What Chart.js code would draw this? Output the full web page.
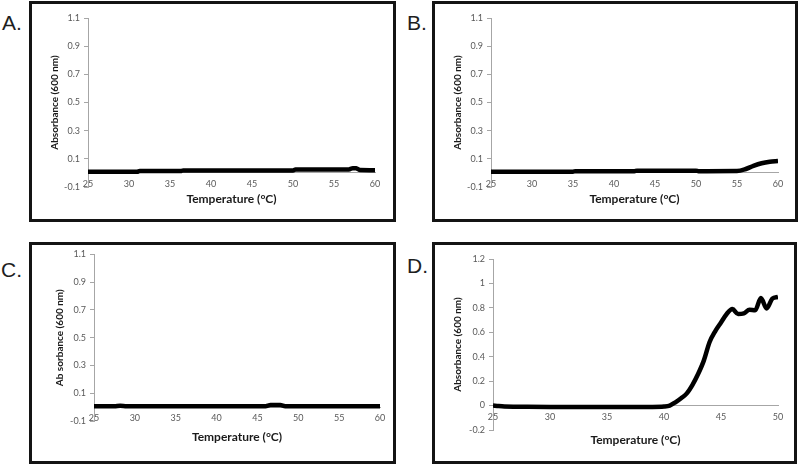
<!DOCTYPE html>
<html>
<head>
<meta charset="utf-8">
<script src="https://cdn.jsdelivr.net/npm/chart.js@4.4.1/dist/chart.umd.min.js"></script>
<style>
  html, body { margin: 0; padding: 0; background: #fff; width: 800px; height: 465px; overflow: hidden; }
  .box { position: absolute; border: 3px solid #141414; box-sizing: border-box; pointer-events: none; }
  .tag { position: absolute; font-family: "Liberation Sans", Arial, sans-serif; font-size: 21px; color: #1e1e1e; line-height: 1; }
  canvas { position: absolute; }
</style>
</head>
<body>
<div class="tag" style="left:2px;top:12px">A.</div>
<div class="tag" style="left:407px;top:12px">B.</div>
<div class="tag" style="left:1px;top:259px">C.</div>
<div class="tag" style="left:407px;top:255px">D.</div>

<canvas id="chartA" width="360" height="216" style="left:33px;top:4px"></canvas>
<canvas id="chartB" width="360" height="216" style="left:436px;top:4px"></canvas>
<canvas id="chartC" width="360" height="213" style="left:33px;top:245px"></canvas>
<canvas id="chartD" width="358" height="227" style="left:436px;top:245px"></canvas>

<div class="box" style="left:29px;top:1px;width:367px;height:221px"></div>
<div class="box" style="left:432px;top:1px;width:366px;height:221px"></div>
<div class="box" style="left:29px;top:242px;width:367px;height:222px"></div>
<div class="box" style="left:432px;top:242px;width:365px;height:222px"></div>

<script>
// panel A
var tempA = [25, 31, 31.3, 36.3, 36.6, 50, 50.3, 56.8, 57.3, 57.7, 58.2, 60];
var absA  = [0.008, 0.008, 0.013, 0.013, 0.018, 0.018, 0.024, 0.024, 0.034, 0.033, 0.02, 0.019];
// panel B
var tempB = [25, 35, 35.3, 42.5, 42.8, 50, 50.3, 55, 56, 57, 58, 59, 60];
var absB  = [0.009, 0.009, 0.012, 0.012, 0.016, 0.016, 0.012, 0.013, 0.026, 0.05, 0.069, 0.08, 0.085];
// panel C
var tempC = [25, 27.5, 28.2, 29, 46, 46.6, 47.8, 48.4, 60];
var absC  = [0.006, 0.006, 0.01, 0.007, 0.007, 0.015, 0.015, 0.007, 0.007];
// panel D
var tempD = [25, 25.5, 26, 27, 28, 30, 32, 34, 36, 38, 39, 40, 40.5, 41, 41.5, 42, 42.5, 43, 43.5, 44,
             44.5, 45, 45.5, 46, 46.5, 47, 47.5, 48, 48.5, 49, 49.5, 50];
var absD  = [0, -0.004, -0.007, -0.009, -0.01, -0.011, -0.011, -0.011, -0.011, -0.011, -0.011, -0.008,
             0, 0.027, 0.06, 0.1, 0.17, 0.26, 0.37, 0.52, 0.61, 0.68, 0.75, 0.79, 0.75, 0.755, 0.785,
             0.78, 0.88, 0.795, 0.875, 0.89];

var xTitle = 'Temperature (°C)';
var tickColor = '#595959';
var axisColor = '#a6a6a6';
var fontFam = 'Lato, "Liberation Sans", sans-serif';

function makePanel(id, temps, vals, p) {
    var pts = temps.map(function (t, i) { return { x: t, y: vals[i] }; });
    return new Chart(document.getElementById(id).getContext('2d'), {
        type: 'line',
        data: {
            datasets: [{
                data: pts,
                borderColor: '#000',
                borderWidth: 4.5,
                pointRadius: 0,
                fill: false,
                cubicInterpolationMode: 'monotone'
            }]
        },
        options: {
            responsive: false,
            animation: false,
            // an x axis placed at y=0 takes no room in the layout, so reserve it here
            layout: { padding: { left: 0, top: p.top, right: p.right, bottom: p.xH } },
            plugins: { legend: { display: false }, tooltip: { enabled: false } },
            scales: {
                x: {
                    type: 'linear',
                    position: { y: 0 },
                    min: 25,
                    max: p.xMax,
                    afterFit: function (s) { s.height = p.xH; },
                    ticks: { stepSize: 5, color: tickColor, font: { family: fontFam, size: 9 }, padding: 6, maxRotation: 0 },
                    grid: { drawOnChartArea: false, drawTicks: false },
                    border: { color: axisColor, width: 1 },
                    title: { display: true, text: xTitle, color: '#1a1a1a', font: { family: fontFam, size: 12, weight: 'bold' }, padding: 0 }
                },
                y: {
                    min: p.yMin,
                    max: p.yMax,
                    afterFit: function (s) { s.width = p.yW; },
                    ticks: {
                        stepSize: 0.2,
                        color: tickColor,
                        font: { family: fontFam, size: 9 },
                        padding: 4,
                        callback: function (v) { return String(parseFloat(v.toFixed(1))); }
                    },
                    grid: { drawOnChartArea: false, drawTicks: true, tickLength: 4, color: axisColor },
                    border: { color: axisColor, width: 1 },
                    title: { display: true, text: p.yTitle, color: '#1a1a1a', font: { family: fontFam, size: 10, weight: 'bold' }, padding: { top: p.yTitlePad, bottom: 0 } }
                }
            }
        }
    });
}

makePanel('chartA', tempA, absA, { top: 14, right: 18, xH: 33, yW: 55, yTitlePad: 16, xMax: 60, yMin: -0.1, yMax: 1.1, yTitle: 'Absorbance (600 nm)' });
makePanel('chartB', tempB, absB, { top: 14, right: 18, xH: 33, yW: 55, yTitlePad: 16, xMax: 60, yMin: -0.1, yMax: 1.1, yTitle: 'Absorbance (600 nm)' });
makePanel('chartC', tempC, absC, { top: 9, right: 13, xH: 37, yW: 61, yTitlePad: 21, xMax: 60, yMin: -0.1, yMax: 1.1, yTitle: 'Ab sorbance (600 nm)' });
makePanel('chartD', tempD, absD, { top: 14, right: 16, xH: 42, yW: 57, yTitlePad: 16, xMax: 50, yMin: -0.2, yMax: 1.2, yTitle: 'Absorbance (600 nm)' });
</script>
</body>
</html>
